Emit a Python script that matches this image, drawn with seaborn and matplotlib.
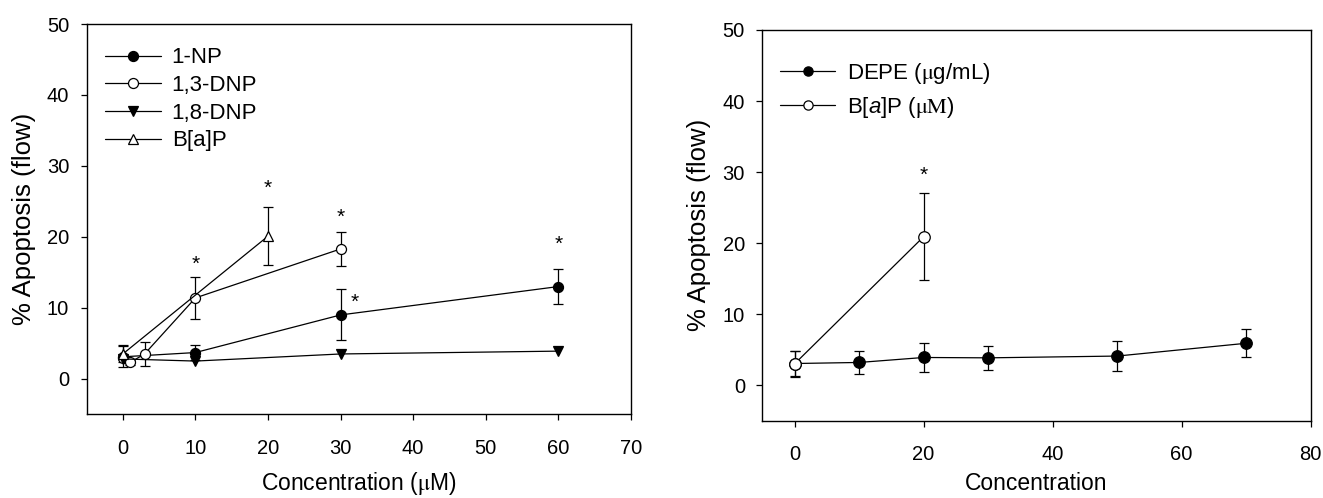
import numpy as np
import pandas as pd
import seaborn as sns
import matplotlib.pyplot as plt

sns.set_style("ticks")
plt.rcParams['font.family'] = ['Liberation Sans', 'DejaVu Sans']
plt.rcParams['mathtext.fontset'] = 'custom'
plt.rcParams['mathtext.rm'] = 'STIXGeneral'
plt.rcParams['mathtext.it'] = 'Liberation Sans:italic'
for key in ['text.color', 'axes.labelcolor', 'xtick.color', 'ytick.color', 'axes.edgecolor']:
    plt.rcParams[key] = 'black'

# left panel: nitro-PAHs and B[a]P (uM)
np1_x = [0, 10, 30, 60]
np1_y = [3.1, 3.7, 9.0, 13.0]
np1_err = [1.5, 1.1, 3.6, 2.45]

dnp13_x = [0, 1, 3, 10, 30]
dnp13_y = [3.0, 2.3, 3.5, 11.4, 18.3]
dnp13_err = [0.0, 0.4, 1.65, 2.95, 2.45]

dnp18_x = [0, 10, 30, 60]
dnp18_y = [2.8, 2.5, 3.5, 3.9]

bap_x = [0, 20]
bap_y = [3.5, 20.1]
bap_err = [1.2, 4.1]

left_stars_x = [10, 20, 30, 32, 60]
left_stars_y = [16.2, 26.8, 22.8, 10.8, 18.9]

# right panel: DEPE (ug/mL) and B[a]P (uM)
depe_x = [0, 10, 20, 30, 50, 70]
depe_y = [3.05, 3.2, 3.9, 3.85, 4.1, 5.9]
depe_err = [1.8, 1.65, 2.0, 1.7, 2.1, 2.0]

bap2_x = [0, 20]
bap2_y = [3.0, 20.9]
bap2_err = [1.8, 6.1]

right_stars_x = [20]
right_stars_y = [29.6]

fig = plt.figure(figsize=(13.23, 4.98), dpi=100)
ax1 = fig.add_axes([0.0654, 0.1681, 0.4115, 0.7837])
ax2 = fig.add_axes([0.5762, 0.1552, 0.4145, 0.7846])

lw = 0.9
ms = 7.2


def series(ax, x, y, err, marker, face, label, size=ms):
    if err is not None:
        ax.errorbar(x, y, yerr=err, fmt='none', ecolor='black', elinewidth=lw,
                    capsize=3.6, capthick=lw, zorder=2)
    sns.lineplot(x=x, y=y, ax=ax, color='black', lw=lw, marker=marker,
                 markersize=size, markerfacecolor=face, markeredgecolor='black',
                 markeredgewidth=0.9, label=label, sort=False, zorder=3)


series(ax1, np1_x, np1_y, np1_err, 'o', 'black', '1-NP')
series(ax1, dnp13_x, dnp13_y, dnp13_err, 'o', 'white', '1,3-DNP')
series(ax1, dnp18_x, dnp18_y, None, 'v', 'black', '1,8-DNP')
series(ax1, bap_x, bap_y, bap_err, '^', 'white', 'B[a]P')
for sx, sy in zip(left_stars_x, left_stars_y):
    ax1.text(sx, sy, '*', ha='center', va='center', fontsize=15)

series(ax2, depe_x, depe_y, depe_err, 'o', 'black', r'DEPE ($\mathrm{\mu}$g/mL)', 8.3)
series(ax2, bap2_x, bap2_y, bap2_err, 'o', 'white', r'B[$\mathit{a}$]P ($\mathrm{\mu M}$)', 8.3)
for sx, sy in zip(right_stars_x, right_stars_y):
    ax2.text(sx, sy, '*', ha='center', va='center', fontsize=15)

ax1.set_xlim(-5, 70)
ax1.set_xticks(range(0, 71, 10))
ax2.set_xlim(-5, 80)
ax2.set_xticks(range(0, 81, 20))
ax1.set_xlabel(r'Concentration ($\mathrm{\mu}$M)', fontsize=16.5, labelpad=9)
ax2.set_xlabel('Concentration', fontsize=16.5, labelpad=5.5)

for ax in (ax1, ax2):
    ax.set_ylim(-5, 50)
    ax.set_yticks(range(0, 51, 10))
    ax.set_ylabel('% Apoptosis (flow)', fontsize=18.5, labelpad=8)
    ax.tick_params(axis='both', direction='out', length=4.5, width=0.9,
                   labelsize=14.5, top=False, right=False)
    ax.tick_params(axis='y', pad=8)
    ax.tick_params(axis='x', pad=13)
    for sp in ax.spines.values():
        sp.set_visible(True)
        sp.set_linewidth(1.0)
        sp.set_color('black')

ax1.legend(loc='upper left', bbox_to_anchor=(0.034, 0.94), frameon=False,
           fontsize=16, handlelength=2.5, handletextpad=0.5, labelspacing=0.3,
           borderpad=0, borderaxespad=0)
ax2.legend(loc='upper left', bbox_to_anchor=(0.032, 0.92), frameon=False,
           fontsize=16, handlelength=2.5, handletextpad=0.5, labelspacing=0.4,
           borderpad=0, borderaxespad=0, markerscale=0.8)

fig.savefig('out.png', dpi=100)
